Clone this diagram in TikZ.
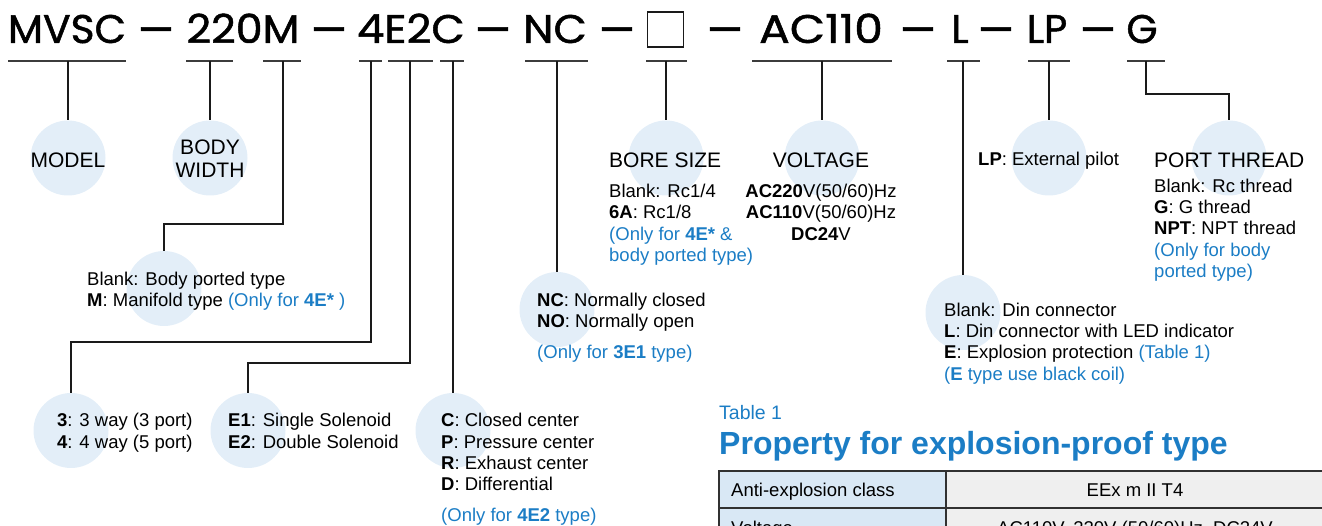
\documentclass[tikz,border=0pt]{standalone}
\usepackage{fontspec}
\setmainfont{Liberation Sans}
\newfontfamily\codefont{Poppins}[FakeBold=1.2]
\definecolor{circfill}{HTML}{E3EEF8}
\definecolor{bluec}{HTML}{1B7DC5}
\definecolor{linecol}{HTML}{1A1A1A}
\definecolor{tleft}{HTML}{D9E8F5}
\definecolor{tright}{HTML}{EFEFEF}
\newcommand{\cdash}{\raisebox{-3pt}{\scalebox{1.02}[1.15]{—}}}
\begin{document}
\begin{tikzpicture}[x=1pt,y=-1pt,
  circ/.style={circle, fill=circfill, minimum size=75pt, inner sep=0pt},
  ln/.style={line width=1.5pt, draw=linecol},
  ul/.style={line width=1.8pt, draw=linecol!85},
  txt/.style={anchor=base west, inner sep=0pt, font=\fontsize{18.5}{21}\selectfont},
  txtc/.style={anchor=base, inner sep=0pt, font=\fontsize{18.5}{21}\selectfont},
  hd/.style={anchor=base west, inner sep=0pt, font=\fontsize{21}{24}\selectfont},
  hdc/.style={anchor=base, inner sep=0pt, font=\fontsize{21}{24}\selectfont},
  code/.style={anchor=base, inner sep=0pt, font=\fontsize{40}{44}\codefont},
  tbl/.style={line width=1.5pt, draw=linecol!90}]
\useasboundingbox (0,0) rectangle (1322,526);

% ---- code line ----
\node[code] (w1) at (67,43) {\scalebox{1.02}[1]{MVSC}};
\node[code] (d1) at (156,43) {\cdash};
\node[code] (w2) at (243,43) {\scalebox{1.07}[1]{220M}};
\node[code] (d2) at (329,43) {\cdash};
\node[code] (w3) at (411,43) {\scalebox{1.08}[1]{4E2C}};
\node[code] (d3) at (493,43) {\cdash};
\node[code] (w4) at (555,43) {\scalebox{1.08}[1]{NC}};
\node[code] (d4) at (617,43) {\cdash};
\node[draw=linecol, line width=1.3pt, minimum width=36pt, minimum height=35pt, inner sep=0pt] (box) at (665.5,29.5) {};
\node[code] (d5) at (725,43) {\cdash};
\node[code] (w6) at (821,43) {\scalebox{1.14}[1]{AC110}};
\node[code] (d6) at (918,43) {\cdash};
\node[code] (w7) at (960,43) {L};
\node[code] (d7) at (996,43) {\cdash};
\node[code] (w8) at (1047,43) {LP};
\node[code] (d8) at (1098,43) {\cdash};
\node[code] (w9) at (1142,43) {G};

% ---- underlines ----
\draw[ul] (8,61) -- (126,61);     \coordinate (u1) at (68,61);
\draw[ul] (186,61) -- (233,61);   \coordinate (u2) at (210,61);
\draw[ul] (263,61) -- (301,61);   \coordinate (u3) at (283,61);
\draw[ul] (359,61) -- (382,61);   \coordinate (u4) at (371,61);
\draw[ul] (388,61) -- (433,61);   \coordinate (u5) at (410,61);
\draw[ul] (440,61) -- (464,61);   \coordinate (u6) at (453,61);
\draw[ul] (525,61) -- (588,61);   \coordinate (u7) at (557,61);
\draw[ul] (646,61) -- (687,61);   \coordinate (u8) at (666,61);
\draw[ul] (752,61) -- (892,61);   \coordinate (u9) at (822,61);
\draw[ul] (947,61) -- (980,61);   \coordinate (u10) at (963,61);
\draw[ul] (1028,61) -- (1070,61); \coordinate (u11) at (1049,61);
\draw[ul] (1127,61) -- (1165,61); \coordinate (u12) at (1146,61);

% ---- circles ----
\node[circ] (cModel) at (68,158) {};
\node[circ] (cBody) at (210,158) {};
\node[circ] (cM) at (164,288.5) {};
\node[circ] (cWay) at (71,430.5) {};
\node[circ] (cSol) at (248,430.5) {};
\node[circ] (cCen) at (453,430.5) {};
\node[circ] (cNC) at (557,309.5) {};
\node[circ] (cBore) at (666,158) {};
\node[circ] (cVolt) at (822,158) {};
\node[circ] (cL) at (963,312.5) {};
\node[circ] (cLP) at (1049,158) {};
\node[circ] (cPort) at (1229,158) {};

% ---- connectors ----
\draw[ln] (u1) -- (cModel.north);
\draw[ln] (u2) -- (cBody.north);
\draw[ln] (u3) -- (u3 |- 0,224) -| (cM.north);
\draw[ln] (u4) -- (u4 |- 0,342) -| (cWay.north);
\draw[ln] (u5) -- (u5 |- 0,363) -| (cSol.north);
\draw[ln] (u6) -- (cCen.north);
\draw[ln] (u7) -- (cNC.north);
\draw[ln] (u8) -- (cBore.north);
\draw[ln] (u9) -- (cVolt.north);
\draw[ln] (u10) -- (cL.north);
\draw[ln] (u11) -- (cLP.north);
\draw[ln] (u12) -- (u12 |- 0,94) -| (cPort.north);

% ---- labels ----
\node[hdc] (tModel) at (68,167.5) {MODEL};
\node[hdc] (tBody1) at (210,154.5) {BODY};
\node[hdc] (tBody2) at (210,177.5) {WIDTH};

\node[txt] (tM1) at (87,285.6) {Blank: Body ported type};
\node[txt] (tM2) at (87,306.6) {\textbf{M}: Manifold type {\color{bluec}(Only for \textbf{4E*} )}};

\node[txt] (tW1) at (57,426.6) {\textbf{3}: 3 way (3 port)};
\node[txt] (tW2) at (57,448.6) {\textbf{4}: 4 way (5 port)};

\node[txt] (tS1) at (228,426.6) {\textbf{E1}: Single Solenoid};
\node[txt] (tS2) at (228,448.6) {\textbf{E2}: Double Solenoid};

\node[txt] (tC1) at (441,426.6) {\textbf{C}: Closed center};
\node[txt] (tC2) at (441,448.6) {\textbf{P}: Pressure center};
\node[txt] (tC3) at (441,469.6) {\textbf{R}: Exhaust center};
\node[txt] (tC4) at (441,490.6) {\textbf{D}: Differential};
\node[txt, text=bluec] (tC5) at (441,521.6) {(Only for \textbf{4E2} type)};

\node[txt] (tN1) at (537,306.6) {\textbf{NC}: Normally closed};
\node[txt] (tN2) at (537,327.6) {\textbf{NO}: Normally open};
\node[txt, text=bluec] (tN3) at (537,358.6) {(Only for \textbf{3E1} type)};

\node[hd] (tB0) at (609,167.5) {BORE SIZE};
\node[txt] (tB1) at (609,197.6) {Blank: Rc1/4};
\node[txt] (tB2) at (609,218.6) {\textbf{6A}: Rc1/8};
\node[txt, text=bluec] (tB3) at (609,240.6) {(Only for \textbf{4E*} \&};
\node[txt, text=bluec] (tB4) at (609,261.6) {body ported type)};

\node[hdc] (tV0) at (821,167.5) {VOLTAGE};
\node[txtc] (tV1) at (821,197.6) {\textbf{AC220}V(50/60)Hz};
\node[txtc] (tV2) at (821,218.6) {\textbf{AC110}V(50/60)Hz};
\node[txtc] (tV3) at (821,240.6) {\textbf{DC24}V};

\node[txt] (tL1) at (944,316.6) {Blank: Din connector};
\node[txt] (tL2) at (944,337.6) {\textbf{L}: Din connector with LED indicator};
\node[txt] (tL3) at (944,358.6) {\textbf{E}: Explosion protection {\color{bluec}(Table 1)}};
\node[txt, text=bluec] (tL4) at (944,380.6) {(\textbf{E} type use black coil)};

\node[txt] (tLP) at (978,165.6) {\textbf{LP}: External pilot};

\node[hd] (tP0) at (1154,167.5) {PORT THREAD};
\node[txt] (tP1) at (1154,192.6) {Blank: Rc thread};
\node[txt] (tP2) at (1154,213.6) {\textbf{G}: G thread};
\node[txt] (tP3) at (1154,234.6) {\textbf{NPT}: NPT thread};
\node[txt, text=bluec] (tP4) at (1154,256.6) {(Only for body};
\node[txt, text=bluec] (tP5) at (1154,277.6) {ported type)};

% ---- table ----
\node[anchor=base west, inner sep=0pt, text=bluec, font=\fontsize{19.5}{22}\selectfont] (tT1) at (719,419) {Table 1};
\node[anchor=base west, inner sep=0pt, text=bluec, font=\fontsize{32}{36}\selectfont\bfseries] (tT2) at (719,454) {Property for explosion-proof type};

\draw[tbl, fill=tleft] (719,471) rectangle (946,508);
\draw[tbl, fill=tright] (946,471) rectangle (1324,508);
\draw[tbl, fill=tleft] (719,508) rectangle (946,546);
\draw[tbl, fill=tright] (946,508) rectangle (1324,546);
\node[txt] (tR1a) at (731,496.6) {Anti-explosion class};
\node[txtc] (tR1b) at (1135,496.6) {EEx m II T4};
\node[txt] (tR2a) at (731,534) {Voltage};
\node[txtc] (tR2b) at (1135,534) {AC110V, 220V (50/60)Hz, DC24V};
\end{tikzpicture}
\end{document}
